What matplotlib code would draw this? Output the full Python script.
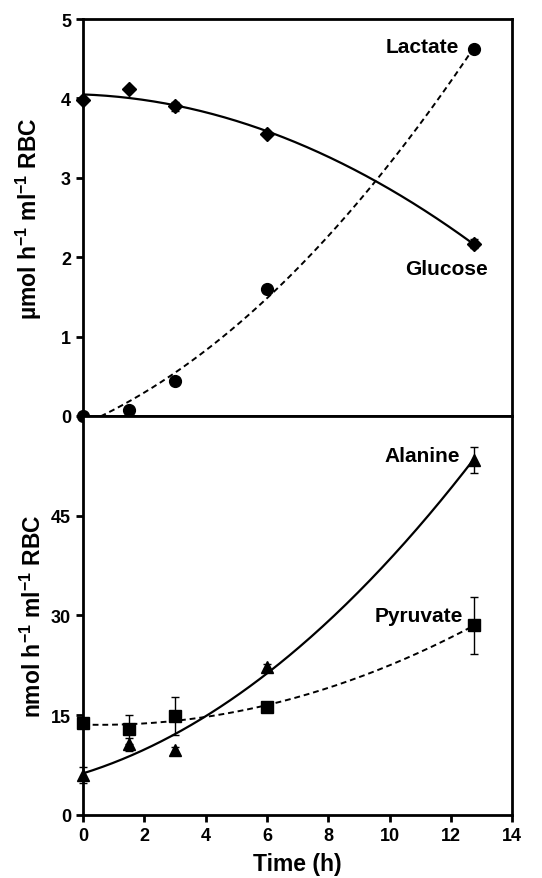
import numpy as np
import matplotlib.pyplot as plt

plt.rcParams['font.family'] = ['Liberation Sans', 'DejaVu Sans']
plt.rcParams['font.weight'] = 'bold'
plt.rcParams['mathtext.fontset'] = 'custom'
plt.rcParams['mathtext.rm'] = 'Liberation Sans:bold'
plt.rcParams['mathtext.bf'] = 'Liberation Sans:bold'
plt.rcParams['mathtext.it'] = 'Liberation Sans:bold'

# time points (h)
t = [0, 1.5, 3, 6, 12.75]

# top panel, umol/h/ml RBC
glucose = [3.98, 4.12, 3.90, 3.55, 2.17]
glucose_err = [0.0, 0.0, 0.06, 0.0, 0.06]
lactate = [0.0, 0.08, 0.44, 1.60, 4.62]

# bottom panel, nmol/h/ml RBC
alanine = [6.0, 10.6, 9.7, 22.3, 53.4]
alanine_err = [1.2, 1.0, 0.5, 0.4, 1.9]
pyruvate = [13.8, 12.9, 14.9, 16.3, 28.5]
pyruvate_err = [0.0, 2.2, 2.9, 0.0, 4.3]

fig = plt.figure(figsize=(5.42, 8.79), dpi=100)
ax1 = fig.add_axes([0.153, 0.5256, 0.792, 0.4516])
ax2 = fig.add_axes([0.153, 0.0717, 0.792, 0.4539])

xs = np.linspace(0, 12.75, 200)

# quadratic trend lines
pg = np.polyfit(t, glucose, 2)
pl = np.polyfit(t, lactate, 2)
ax1.plot(xs, np.polyval(pg, xs), color='black', lw=1.6)
ax1.plot(xs, np.polyval(pl, xs), color='black', lw=1.4, ls=(0, (3, 2)))
ax1.errorbar(t, glucose, yerr=glucose_err, fmt='D', color='black', ms=7,
             capsize=3, elinewidth=1, clip_on=False, zorder=3)
ax1.plot(t, lactate, 'o', color='black', ms=8.5, clip_on=False, zorder=3)

ax1.text(12.25, 4.66, 'Lactate', ha='right', va='center', fontsize=15, fontweight='bold')
ax1.text(11.85, 1.86, 'Glucose', ha='center', va='center', fontsize=15, fontweight='bold')

ax1.set_xlim(0, 14)
ax1.set_ylim(0, 5)
ax1.set_yticks([0, 1, 2, 3, 4, 5])
ax1.set_xticks([])
ax1.set_ylabel('µmol h$^{-1}$ ml$^{-1}$ RBC', fontsize=16.5, fontweight='bold', labelpad=12)

pa = np.polyfit(t, alanine, 2)
pp = np.polyfit(t, pyruvate, 2)
ax2.plot(xs, np.polyval(pa, xs), color='black', lw=1.6)
ax2.plot(xs, np.polyval(pp, xs), color='black', lw=1.4, ls=(0, (3, 2)))
ax2.errorbar(t, alanine, yerr=alanine_err, fmt='^', color='black', ms=8.5,
             capsize=3, elinewidth=1, clip_on=False, zorder=3)
ax2.errorbar(t, pyruvate, yerr=pyruvate_err, fmt='s', color='black', ms=8.5,
             capsize=3, elinewidth=1, clip_on=False, zorder=3)

ax2.text(12.3, 54.0, 'Alanine', ha='right', va='center', fontsize=15, fontweight='bold')
ax2.text(12.4, 30.0, 'Pyruvate', ha='right', va='center', fontsize=15, fontweight='bold')

ax2.set_xlim(0, 14)
ax2.set_ylim(0, 60)
ax2.set_yticks([0, 15, 30, 45])
ax2.set_xticks(range(0, 15, 2))
ax2.set_xlabel('Time (h)', fontsize=16.5, fontweight='bold', labelpad=6)
ax2.set_ylabel('nmol h$^{-1}$ ml$^{-1}$ RBC', fontsize=16.5, fontweight='bold', labelpad=4)

for ax in (ax1, ax2):
    for s in ax.spines.values():
        s.set_linewidth(2)
    ax.tick_params(direction='out', width=2, length=5, labelsize=13)
    for lab in ax.get_xticklabels() + ax.get_yticklabels():
        lab.set_fontweight('bold')

fig.savefig('out.png', dpi=100)
